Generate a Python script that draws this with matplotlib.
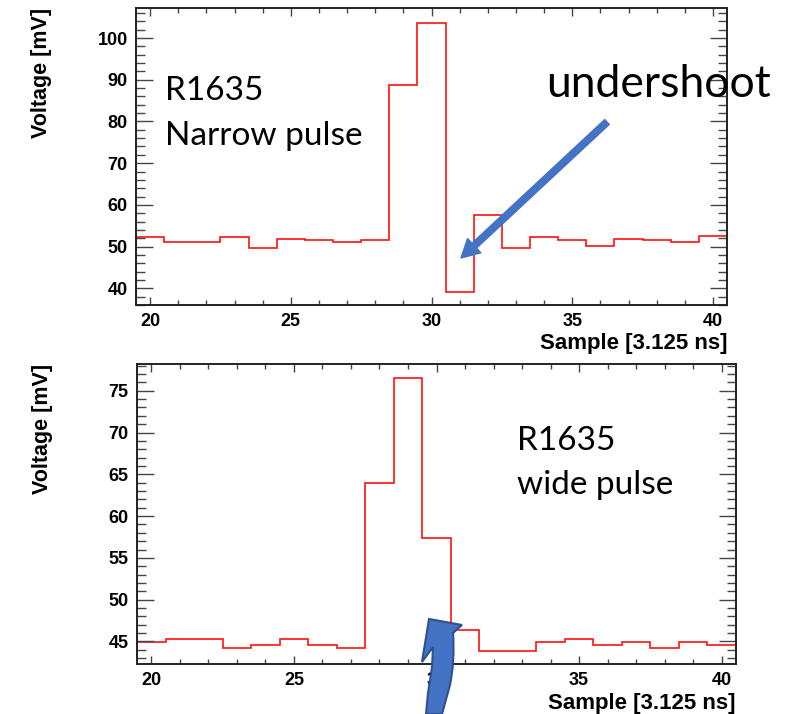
import matplotlib
matplotlib.use("Agg")
import matplotlib.pyplot as plt
import numpy as np
from matplotlib.patches import FancyArrowPatch, PathPatch
from matplotlib.path import Path

# Номера отсчётов (бины гистограммы)
samples = np.arange(20, 41)
edges = np.append(samples - 0.5, samples[-1] + 0.5)

# Узкий импульс, мВ
narrow_mv = [52.2, 51.0, 51.0, 52.2, 49.6, 51.8, 51.5, 51.0, 51.5, 88.7, 103.6,
             39.0, 57.6, 49.6, 52.2, 51.6, 50.2, 51.8, 51.5, 51.0, 52.5]
# Широкий импульс, мВ
wide_mv = [44.9, 45.3, 45.3, 44.2, 44.6, 45.3, 44.6, 44.2, 64.0, 76.5, 57.4,
           46.4, 43.8, 43.8, 44.9, 45.3, 44.6, 44.9, 44.2, 44.9, 44.6]

W, H = 802, 714
BOLD = dict(family="Liberation Sans", weight="bold")
LABEL_FONT = "Lato"
ARROW_BLUE = "#4472C4"


def fx(x):
    return x / W


def fy(y):
    return 1 - y / H


def draw_hist(ax, values, ylim, ymajor, yminor):
    ax.stairs(values, edges, color="#ff1010", lw=1.2, baseline=None)
    ax.vlines(edges[0], ylim[0], values[0], color="#ff1010", lw=1.2)
    ax.set_xlim(edges[0], edges[-1])
    ax.set_ylim(*ylim)
    ax.set_xticks(np.arange(20, 41, 5))
    ax.set_xticks(samples, minor=True)
    ax.set_yticks(np.arange(ymajor[0], ymajor[1] + 0.1, ymajor[2]))
    ax.set_yticks(np.arange(yminor[0], ylim[1], yminor[1]), minor=True)
    ax.tick_params(axis="both", which="both", direction="in", top=True, right=True,
                   color="#444444", width=1.0)
    ax.tick_params(axis="x", which="major", length=6, pad=6)
    ax.tick_params(axis="x", which="minor", length=3.5)
    ax.tick_params(axis="y", which="major", length=12, pad=6)
    ax.tick_params(axis="y", which="minor", length=6.5)
    for lab in ax.get_xticklabels() + ax.get_yticklabels():
        lab.set_fontfamily("Liberation Sans")
        lab.set_fontweight("bold")
        lab.set_fontsize(13)
    for sp in ax.spines.values():
        sp.set_color("#222222")
        sp.set_linewidth(1.4)
    ax.set_xlabel("Sample [3.125 ns]", fontsize=16, loc="right", **BOLD)
    ax.set_ylabel("Voltage [mV]", fontsize=15.5, loc="top", **BOLD)


fig = plt.figure(figsize=(W / 100, H / 100), dpi=100)

# Верхний график: узкий импульс
ax1 = fig.add_axes([fx(136), fy(305), (727 - 136) / W, (305 - 8) / H])
draw_hist(ax1, narrow_mv, (36.0, 107.2), (40, 100, 10), (36, 2))
ax1.xaxis.set_label_coords(1.0, -0.095)
ax1.yaxis.set_label_coords(-0.142, 1.0)

# Нижний график: широкий импульс
ax2 = fig.add_axes([fx(137), fy(664), (736 - 137) / W, (664 - 364) / H])
draw_hist(ax2, wide_mv, (42.3, 78.2), (45, 75, 5), (43, 1))
ax2.xaxis.set_label_coords(1.0, -0.095)
ax2.yaxis.set_label_coords(-0.14, 1.0)

# Подписи
fig.text(fx(165), fy(100), "R1635", fontsize=24, family=LABEL_FONT, va="baseline")
fig.text(fx(165), fy(145), "Narrow pulse", fontsize=24, family=LABEL_FONT, va="baseline")
fig.text(fx(546), fy(97), "undershoot", fontsize=32, family=LABEL_FONT, va="baseline")
fig.text(fx(517), fy(450), "R1635", fontsize=24, family=LABEL_FONT, va="baseline")
fig.text(fx(517), fy(494), "wide pulse", fontsize=24, family=LABEL_FONT, va="baseline")

# Прямая стрелка на провал
arr = FancyArrowPatch((fx(607), fy(122)), (fx(461), fy(258)), transform=fig.transFigure,
                      arrowstyle="simple,head_length=0.65,head_width=0.7,tail_width=0.24",
                      mutation_scale=20, color=ARROW_BLUE, shrinkA=0, shrinkB=0, zorder=10)
fig.add_artist(arr)

# Изогнутая стрелка внизу
pts = [(429, 619), (462, 625), (453, 633), (455, 660), (450, 685), (442, 714),
       (426, 714), (428, 693), (432, 667), (433, 647), (422, 662), (429, 619)]
codes = [Path.MOVETO, Path.LINETO, Path.LINETO, Path.CURVE3, Path.CURVE3, Path.LINETO,
         Path.LINETO, Path.LINETO, Path.LINETO, Path.LINETO, Path.LINETO, Path.CLOSEPOLY]
path = Path([(fx(x), fy(y)) for x, y in pts], codes)
fig.add_artist(PathPatch(path, transform=fig.transFigure, facecolor=ARROW_BLUE,
                         edgecolor="#2F528F", lw=1.5, zorder=10, clip_on=False))

fig.savefig("out.png", dpi=100)
